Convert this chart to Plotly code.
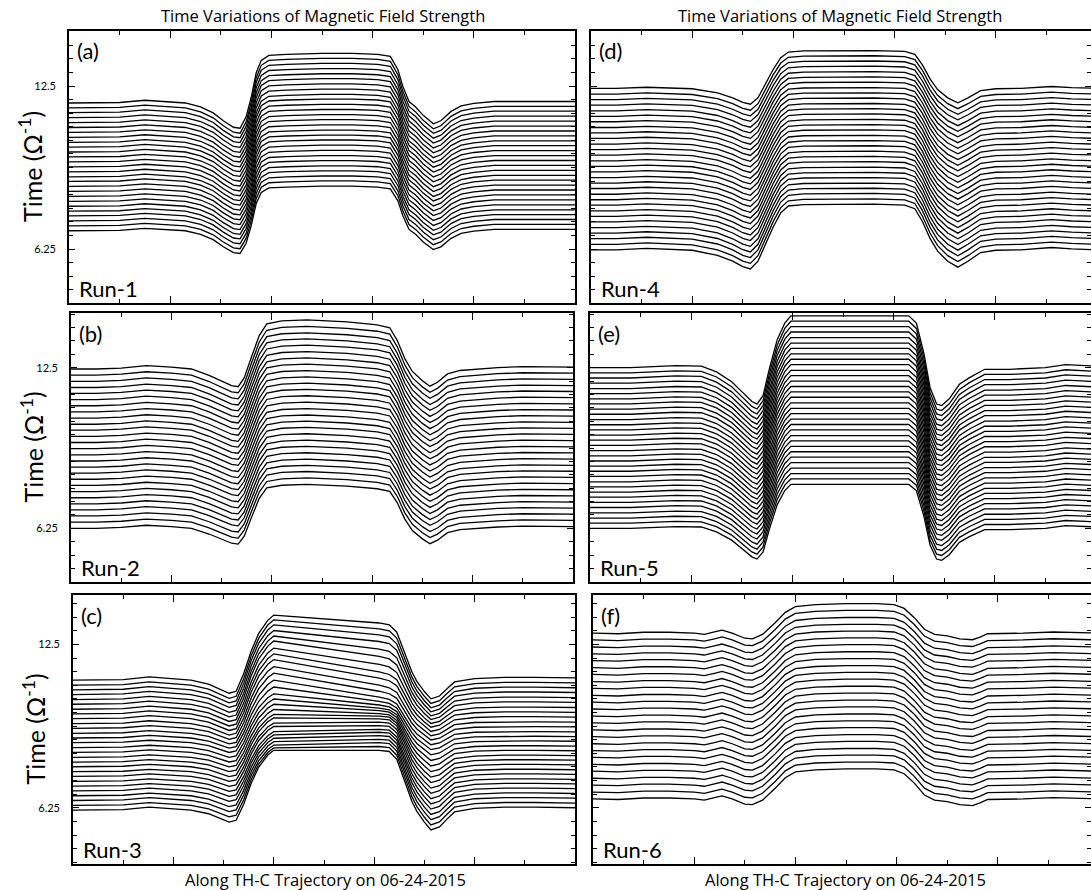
import plotly.graph_objects as go

FIG_W, FIG_H = 1091, 890
FONT = "Lato"
TITLE_FONT = "Open Sans"

# ---------------- Run-1 (a) ----------------
TRACK_A = [0, 0.5, 1.0, 1.5, 1.9, 2.3, 2.6, 2.85, 3.05, 3.25, 3.38, 3.5, 3.6, 3.7, 3.8, 3.95, 4.3, 5.0, 5.6, 6.1,
           6.35, 6.5, 6.6, 6.72, 6.85, 7.0, 7.2, 7.35, 7.55, 7.75, 8.0, 8.4, 9.0, 10.0]
PROFILE_A = [0, 0, 0.01, 0.055, 0.035, 0, -0.08, -0.2, -0.36, -0.49, -0.51, -0.28, 0.11, 0.61, 0.86, 0.96, 0.98, 1.0, 1.0, 0.98,
             0.94, 0.67, 0.33, 0.03, -0.08, -0.25, -0.42, -0.36, -0.17, -0.06, -0.01, 0.03, 0.03, 0.03]
LEVELS_A = [6.95, 7.14, 7.33, 7.52, 7.70, 7.89, 8.08, 8.27, 8.46, 8.65, 8.84, 9.02, 9.21, 9.40, 9.59, 9.78, 9.97,
            10.16, 10.34, 10.53, 10.72, 10.91, 11.10, 11.29, 11.48, 11.66, 11.85]
GAIN_A = [1.71, 1.72, 1.72, 1.73, 1.74, 1.75, 1.75, 1.76, 1.77, 1.78, 1.78, 1.79, 1.80, 1.81, 1.81, 1.82, 1.83,
          1.84, 1.84, 1.85, 1.86, 1.87, 1.87, 1.88, 1.89, 1.90, 1.90]

# ---------------- Run-2 (b) ----------------
TRACK_B = [0, 0.5, 1.0, 1.5, 2.0, 2.4, 2.75, 3.0, 3.2, 3.33, 3.45, 3.6, 3.75, 3.9, 4.2, 4.7, 5.5, 6.1, 6.35, 6.5,
           6.65, 6.8, 7.0, 7.15, 7.3, 7.5, 7.75, 8.5, 9.0, 10]
PROFILE_B = [0, 0, 0.02, 0.07, 0.04, 0, -0.13, -0.24, -0.34, -0.36, -0.18, 0.26, 0.68, 0.92, 0.98, 1.0, 0.96, 0.9, 0.84, 0.58,
             0.21, -0.05, -0.24, -0.35, -0.27, -0.1, -0.03, 0.03, 0.05, 0.04]
LEVELS_B = [6.25, 6.49, 6.73, 6.97, 7.20, 7.44, 7.68, 7.92, 8.16, 8.40, 8.63, 8.87, 9.11, 9.35, 9.59, 9.83, 10.07,
            10.30, 10.54, 10.78, 11.02, 11.26, 11.50, 11.73, 11.97, 12.21, 12.45]
GAIN_B = [1.71, 1.72, 1.73, 1.73, 1.74, 1.75, 1.76, 1.76, 1.77, 1.78, 1.79, 1.79, 1.80, 1.81, 1.82, 1.83, 1.83,
          1.84, 1.85, 1.86, 1.86, 1.87, 1.88, 1.89, 1.89, 1.90, 1.91]

# ---------------- Run-3 (c) ----------------
TRACK_C = [0, 0.5, 1.0, 1.52, 2.0, 2.35, 2.7, 2.98, 3.11, 3.25, 3.4, 3.55, 3.7, 3.8, 3.88, 4.0, 5.0, 6.1, 6.3, 6.45,
           6.6, 6.75, 6.85, 7.0, 7.13, 7.3, 7.45, 7.6, 8.0, 8.6, 9.2, 10]
PROFILE_C = [0, 0, 0.01, 0.05, 0.02, 0, -0.06, -0.15, -0.2, -0.17, 0.1, 0.45, 0.72, 0.83, 0.92, 1.0, 1.0, 1.0, 0.98, 0.85,
             0.5, 0.15, -0.02, -0.2, -0.33, -0.28, -0.15, -0.03, 0.03, 0.05, 0.05, 0.04]
# weight of the exit-side hump height along the plateau
BLEND_C = [0, 0, 0, 0, 0, 0, 0, 0, 0, 0, 0, 0, 0, 0, 0, 0, 0.43, 0.91, 1, 1,
           1, 1, 1, 1, 1, 1, 1, 1, 1, 1, 1, 1]
LEVELS_C = [6.16, 6.34, 6.53, 6.71, 6.90, 7.08, 7.26, 7.45, 7.63, 7.82, 8.00, 8.18, 8.37, 8.55, 8.74, 8.92, 9.10,
            9.29, 9.47, 9.66, 9.84, 10.02, 10.21, 10.39, 10.58, 10.76, 10.94, 11.13]
GAIN_C_IN = [2.29, 2.20, 2.12, 2.07, 2.01, 1.96, 1.90, 1.91, 1.86, 1.87, 1.82, 1.83, 1.84, 1.86, 1.87, 1.95, 2.03,
             2.11, 2.18, 2.26, 2.30, 2.34, 2.42, 2.43, 2.45, 2.49, 2.50, 2.49]
GAIN_C_OUT = [2.29, 2.26, 2.22, 2.17, 2.12, 2.07, 2.00, 1.95, 1.90, 1.83, 1.75, 1.66, 1.57, 1.48, 1.40, 1.35, 1.32,
              1.35, 1.40, 1.48, 1.54, 1.65, 1.77, 1.88, 1.99, 2.07, 2.12, 2.16]

# ---------------- Run-4 (d) ----------------
TRACK_D = [0, 0.5, 1.1, 1.5, 2.0, 2.5, 2.8, 3.0, 3.15, 3.3, 3.45, 3.6, 3.75, 3.9, 4.2, 5.0, 5.6, 6.2, 6.4, 6.55,
           6.7, 6.85, 7.05, 7.25, 7.45, 7.7, 8.0, 8.5, 9.1, 9.5, 10]
PROFILE_D = [0, 0, 0.03, 0.01, -0.01, -0.12, -0.25, -0.37, -0.42, -0.25, 0.12, 0.5, 0.81, 0.96, 0.99, 1.0, 1.0, 0.98, 0.9, 0.62,
             0.25, -0.03, -0.25, -0.38, -0.25, -0.06, -0.01, 0, 0.05, 0.02, 0]
LEVELS_D = [6.22, 6.43, 6.65, 6.86, 7.07, 7.29, 7.50, 7.71, 7.93, 8.14, 8.35, 8.57, 8.78, 8.99, 9.21, 9.42, 9.63,
            9.85, 10.06, 10.27, 10.49, 10.70, 10.91, 11.13, 11.34, 11.55, 11.77, 11.98, 12.19, 12.41]
GAIN_D = [1.75, 1.74, 1.73, 1.72, 1.71, 1.70, 1.69, 1.68, 1.67, 1.66, 1.65, 1.64, 1.63, 1.62, 1.61, 1.60, 1.59,
          1.58, 1.57, 1.56, 1.55, 1.54, 1.53, 1.52, 1.51, 1.50, 1.49, 1.48, 1.47, 1.45]

# ---------------- Run-5 (e) ----------------
TRACK_E = [0, 0.8, 1.7, 2.2, 2.5, 2.8, 3.0, 3.2, 3.3, 3.42, 3.55, 3.7, 3.85, 3.97, 4.5, 5.5, 6.3, 6.45, 6.6, 6.72,
           6.85, 6.95, 7.1, 7.3, 7.5, 7.8, 8.3, 9.0, 9.4, 10]
PROFILE_E = [0, 0, 0.04, 0.03, -0.08, -0.27, -0.46, -0.65, -0.7, -0.54, 0, 0.54, 0.86, 1.0, 1.0, 1.0, 1.0, 0.86, 0.27, -0.38,
             -0.7, -0.73, -0.6, -0.32, -0.19, -0.03, -0.03, 0, 0.06, 0.03]
LEVELS_E = [6.25, 6.45, 6.65, 6.85, 7.06, 7.26, 7.46, 7.66, 7.86, 8.06, 8.27, 8.47, 8.67, 8.87, 9.07, 9.27, 9.48,
            9.68, 9.88, 10.08, 10.28, 10.48, 10.69, 10.89, 11.09, 11.29, 11.49, 11.69, 11.90, 12.10, 12.30, 12.50]
GAIN_E = [1.71, 1.72, 1.73, 1.74, 1.75, 1.76, 1.77, 1.78, 1.79, 1.80, 1.81, 1.82, 1.83, 1.84, 1.85, 1.86, 1.87,
          1.88, 1.89, 1.90, 1.91, 1.92, 1.93, 1.94, 1.95, 1.96, 1.97, 1.98, 1.99, 2.00, 2.01, 2.02]

# ---------------- Run-6 (f) ----------------
TRACK_F = [0, 0.5, 1.0, 1.5, 2.0, 2.2, 2.4, 2.55, 2.75, 3.0, 3.15, 3.35, 3.6, 3.8, 4.0, 4.4, 5.0, 5.6, 5.95, 6.15,
           6.35, 6.55, 6.75, 7.0, 7.25, 7.5, 7.65, 7.8, 8.5, 9.1, 10]
PROFILE_F = [0, -0.02, 0.03, 0.03, 0, -0.04, 0.04, 0.1, 0, -0.17, -0.19, -0.04, 0.35, 0.7, 0.89, 0.96, 0.99, 0.99, 0.96, 0.83,
             0.52, 0.13, -0.04, -0.09, -0.19, -0.22, -0.13, -0.02, 0, 0.04, 0]
LEVELS_F = [6.59, 6.85, 7.12, 7.38, 7.65, 7.91, 8.18, 8.44, 8.70, 8.97, 9.23, 9.50, 9.76, 10.03, 10.29, 10.55, 10.82,
            11.08, 11.35, 11.61, 11.88, 12.14, 12.40, 12.67, 12.93]
GAIN_F = [1.16, 1.16, 1.16, 1.15, 1.15, 1.15, 1.15, 1.15, 1.15, 1.15, 1.15, 1.15, 1.15, 1.15, 1.15, 1.15, 1.15,
          1.15, 1.15, 1.15, 1.14, 1.14, 1.14, 1.14, 1.14]

Y_TICK_LABELS = [6.25, 12.5]
Y_MINOR_STEP = 6.25 / 12

TOP_TITLE = "Time Variations of Magnetic Field Strength"
BOTTOM_TITLE = "Along TH-C Trajectory on 06-24-2015"
Y_TITLE = "Time (Ω<sup>-1</sup>)"

# panel frames in page pixels: left, right, top, bottom, x range end, y range
PANELS = [
    dict(tag="(a)", run="Run-1", track=TRACK_A, profile=PROFILE_A, levels=LEVELS_A, g_in=GAIN_A, g_out=GAIN_A,
         blend=None, box=(69, 575, 31, 303), xmax=10, yr=(4.18, 14.61), left=True),
    dict(tag="(b)", run="Run-2", track=TRACK_B, profile=PROFILE_B, levels=LEVELS_B, g_in=GAIN_B, g_out=GAIN_B,
         blend=None, box=(71, 573, 313, 582), xmax=10, yr=(4.16, 14.63), left=True),
    dict(tag="(c)", run="Run-3", track=TRACK_C, profile=PROFILE_C, levels=LEVELS_C, g_in=GAIN_C_IN, g_out=GAIN_C_OUT,
         blend=BLEND_C, box=(73, 575, 595, 864), xmax=10, yr=(4.10, 14.39), left=True),
    dict(tag="(d)", run="Run-4", track=TRACK_D, profile=PROFILE_D, levels=LEVELS_D, g_in=GAIN_D, g_out=GAIN_D,
         blend=None, box=(591, 1091, 31, 303), xmax=(1091 - 591) / 50.6, yr=(4.18, 14.61), left=False),
    dict(tag="(e)", run="Run-5", track=TRACK_E, profile=PROFILE_E, levels=LEVELS_E, g_in=GAIN_E, g_out=GAIN_E,
         blend=None, box=(590, 1091, 313, 582), xmax=(1091 - 590) / 50.6, yr=(4.16, 14.63), left=False),
    dict(tag="(f)", run="Run-6", track=TRACK_F, profile=PROFILE_F, levels=LEVELS_F, g_in=GAIN_F, g_out=GAIN_F,
         blend=None, box=(593, 1091, 595, 864), xmax=(1091 - 593) / 50.6, yr=(4.10, 14.39), left=False),
]


def px_x(p):
    return p / FIG_W


def px_y(p):
    return 1 - p / FIG_H


def y_ticks(minor_len=4):
    return dict(ticks="inside", tick0=Y_TICK_LABELS[0], dtick=Y_MINOR_STEP, ticklen=minor_len, tickwidth=1.1,
                tickcolor="black", showgrid=False)


fig = go.Figure()
layout = dict(
    width=FIG_W, height=FIG_H, margin=dict(l=0, r=0, t=0, b=0),
    paper_bgcolor="white", plot_bgcolor="white", showlegend=False,
    font=dict(family=FONT, color="black"),
)
annotations = []
n = len(PANELS)

for i, p in enumerate(PANELS, start=1):
    l, r, t, b = p["box"]
    xa, ya = f"x{i}", f"y{i}"
    blend = p["blend"] or [0] * len(p["track"])
    assert len(p["track"]) == len(p["profile"]) == len(blend)
    for lev, gi, go_ in zip(p["levels"], p["g_in"], p["g_out"]):
        ys = [lev + s * (gi + (go_ - gi) * w) for s, w in zip(p["profile"], blend)]
        fig.add_trace(go.Scatter(x=p["track"], y=ys, mode="lines", xaxis=xa, yaxis=ya,
                                 line=dict(color="black", width=1.3), hoverinfo="skip"))

    layout[f"xaxis{i}"] = dict(
        domain=[px_x(l), px_x(r)], anchor=ya, range=[0, p["xmax"]],
        showgrid=False, zeroline=False, showline=True, linecolor="black", linewidth=1.6,
        mirror="ticks", ticks="inside", ticklen=7, tickwidth=1.1, tickcolor="black",
        tick0=0, dtick=2, showticklabels=False,
        minor=dict(ticks="inside", tick0=0, dtick=1, ticklen=4, tickwidth=1.1, tickcolor="black", showgrid=False),
    )
    layout[f"yaxis{i}"] = dict(
        domain=[px_y(b), px_y(t)], anchor=xa, range=list(p["yr"]),
        showgrid=False, zeroline=False, showline=True, linecolor="black", linewidth=1.6,
        mirror="ticks" if p["left"] else False, ticks="inside", ticklen=6, tickwidth=1.1, tickcolor="black",
        tickmode="array", tickvals=Y_TICK_LABELS, ticktext=["6.25", "12.5"],
        showticklabels=p["left"], tickfont=dict(size=11, family=FONT), ticklabelstandoff=9,
        minor=y_ticks(),
    )
    if not p["left"]:
        # right-hand tick column sits on the page edge without a frame line
        k = n + i
        layout[f"yaxis{k}"] = dict(
            domain=[px_y(b), px_y(t)], anchor=xa, overlaying=ya, side="right", range=list(p["yr"]),
            showgrid=False, zeroline=False, showline=False, ticks="inside", ticklen=6, tickwidth=1.1,
            tickcolor="black", tickmode="array", tickvals=Y_TICK_LABELS, showticklabels=False,
            minor=y_ticks(),
        )
        fig.add_trace(go.Scatter(x=[None], y=[None], xaxis=xa, yaxis=f"y{k}", mode="lines", hoverinfo="skip"))

    annotations.append(dict(text=p["tag"], x=px_x(l + 6), y=px_y(t + 20), xref="paper", yref="paper",
                            xanchor="left", yanchor="middle", showarrow=False, font=dict(size=22, family=FONT)))
    annotations.append(dict(text=p["run"], x=px_x(l + 8), y=px_y(b - 15), xref="paper", yref="paper",
                            xanchor="left", yanchor="middle", showarrow=False, font=dict(size=22, family=FONT)))
    if p["left"]:
        annotations.append(dict(text=Y_TITLE, x=px_x(l - 39), y=px_y((t + b) / 2), xref="paper", yref="paper",
                                xanchor="center", yanchor="middle", textangle=-90, showarrow=False,
                                font=dict(size=25, family=FONT)))

for cx in (323, 840):
    annotations.append(dict(text=TOP_TITLE, x=px_x(cx), y=px_y(16), xref="paper", yref="paper",
                            xanchor="center", yanchor="middle", showarrow=False,
                            font=dict(size=16.5, family=TITLE_FONT)))
for cx in (325, 845):
    annotations.append(dict(text=BOTTOM_TITLE, x=px_x(cx), y=px_y(879), xref="paper", yref="paper",
                            xanchor="center", yanchor="middle", showarrow=False,
                            font=dict(size=16.5, family=TITLE_FONT)))

layout["annotations"] = annotations
fig.update_layout(**layout)
fig.write_html("out.html")
